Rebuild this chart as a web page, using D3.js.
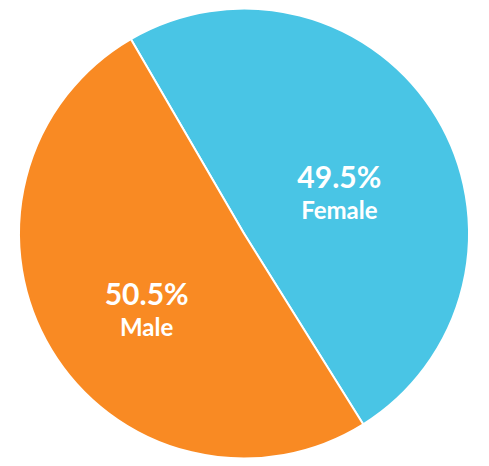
<!DOCTYPE html>
<html><head><meta charset="utf-8">
<script src="https://cdn.jsdelivr.net/npm/d3@7"></script>
<style>body{margin:0;background:#fff;}svg{display:block;}</style>
</head><body>
<svg id="c" width="489" height="466"></svg>
<script>
const categories = ["Female", "Male"];
const values = [49.5, 50.5];
const labels = ["49.5%", "50.5%"];
const colors = ["#49C5E5", "#F98A23"];

const svg = d3.select("#c");
const cx = 244, cy = 233.5, r = 225;
const g = svg.append("g").attr("transform", `translate(${cx},${cy})`);
const startA = -30.2 * Math.PI / 180;
const pie = d3.pie().sort(null).startAngle(startA).endAngle(startA + 2 * Math.PI);
const arcs = pie(values);
const arc = d3.arc().innerRadius(0).outerRadius(r);
const labelArc = d3.arc().innerRadius(r * 0.5).outerRadius(r * 0.5);

g.selectAll("path").data(arcs).join("path")
  .attr("d", arc).attr("fill", (d, i) => colors[i])
  .attr("stroke", "#fff").attr("stroke-width", 2);

const font = "Lato, 'Open Sans', sans-serif";
arcs.forEach((d, i) => {
  const [x, y] = labelArc.centroid(d);
  g.append("text").attr("x", x - 1).attr("y", y + 13).attr("text-anchor", "middle")
    .attr("font-family", font).attr("font-weight", "bold").attr("font-size", 30)
    .attr("fill", "#fff").text(labels[i]);
  g.append("text").attr("x", x - 1).attr("y", y + 44).attr("text-anchor", "middle")
    .attr("font-family", font).attr("font-weight", "bold").attr("font-size", 24)
    .attr("fill", "#fff").text(categories[i]);
});
</script>
</body></html>
